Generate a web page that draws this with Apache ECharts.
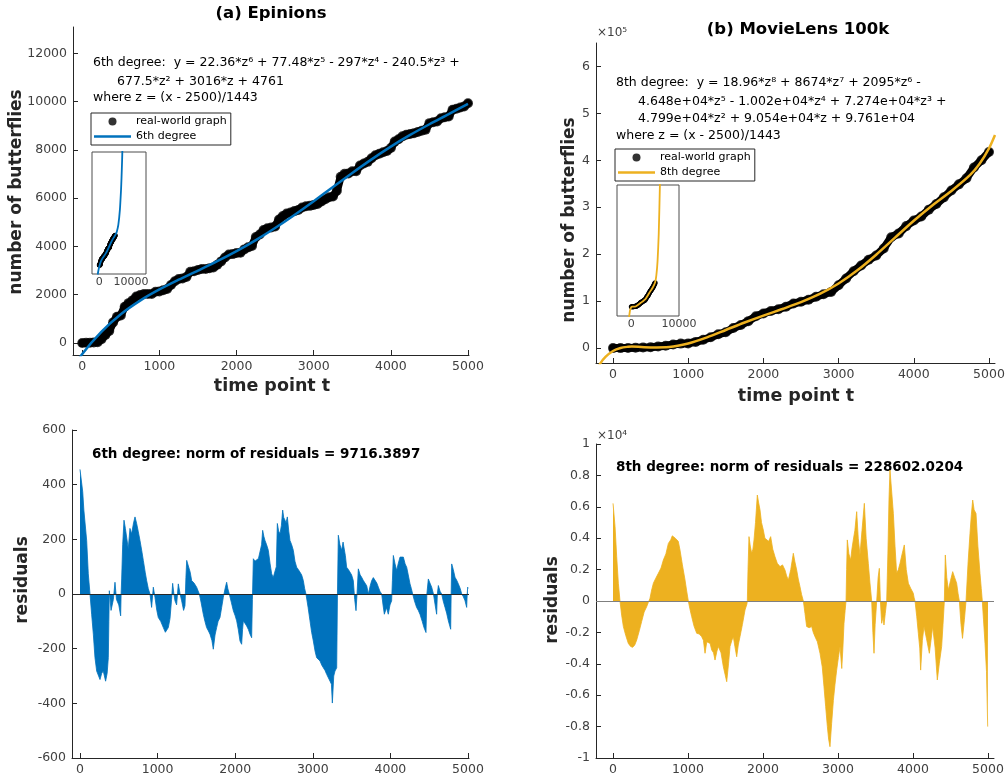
<!DOCTYPE html>
<html><head><meta charset="utf-8">
<script src="https://cdn.jsdelivr.net/npm/echarts@6/dist/echarts.min.js"></script>
<style>html,body{margin:0;padding:0;background:#fff}#c{width:1005px;height:781px}</style>
</head><body><div id="c"></div>
<script>
// ---------- tick labels ----------
const timeTicks = [0, 1000, 2000, 3000, 4000, 5000];
const butterflyTicksA = [0, 2000, 4000, 6000, 8000, 10000, 12000];
const butterflyTicksB = [0, 100000, 200000, 300000, 400000, 500000, 600000];
const residualTicksA = [-600, -400, -200, 0, 200, 400, 600];
const residualTicksB = [-10000, -8000, -6000, -4000, -2000, 0, 2000, 4000, 6000, 8000, 10000];
const insetTicks = [0, 10000];

// ---------- (a) Epinions : real-world graph ----------
const timeA = [0,50,100,150,200,250,300,350,400,450,500,550,600,650,700,750,800,850,900,950,
 1000,1050,1100,1150,1200,1250,1300,1350,1400,1450,1500,1550,1600,1650,1700,1750,1800,1850,1900,1950,
 2000,2050,2100,2150,2200,2250,2300,2350,2400,2450,2500,2550,2600,2650,2700,2750,2800,2850,2900,2950,
 3000,3050,3100,3150,3200,3250,3300,3350,3400,3450,3500,3550,3600,3650,3700,3750,3800,3850,3900,3950,
 4000,4050,4100,4150,4200,4250,4300,4350,4400,4450,4500,4550,4600,4650,4700,4750,4800,4850,4900,4950,5000];
const butterfliesA = [-4,10,12,23,33,159,331,497,851,1088,1139,1502,1648,1763,1921,1984,2026,2029,2031,2124,
 2136,2186,2237,2397,2558,2648,2674,2730,2946,2972,3023,3066,3068,3091,3128,3236,3379,3543,3666,3680,
 3723,3734,3876,3960,4019,4388,4490,4680,4751,4781,4826,5114,5257,5361,5404,5462,5511,5611,5660,5680,
 5714,5758,5858,5951,6038,6065,6302,6883,7005,7018,7113,7116,7348,7436,7503,7651,7777,7839,7903,7954,
 8074,8341,8438,8559,8626,8655,8692,8740,8794,8837,9106,9145,9178,9312,9350,9379,9665,9705,9751,9801,9932];

// (a) 6th degree fit
const fitTimeA = [-250,0,250,500,750,1000,1250,1500,1750,2000,2250,2500,2750,3000,3250,3500,3750,4000,4250,4500,4750,5000];
const fitA = [-1656,-460,469,1189,1754,2216,2618,2998,3386,3803,4260,4761,5302,5874,6460,7043,7606,8134,8618,9061,9479,9907];
// (a) inset: fit continued beyond the data
const insetFitTimeA = [-500,-250,0,500,1000,1500,2000,2500,3000,3500,4000,4500,5000,5250,5500,6000,6500,6850,7000,7200,7400];
const insetFitA = [-3172,-1656,-460,1189,2216,2998,3803,4761,5874,7043,8134,9061,9907,10406,11034,13408,18494,24964,28788,35136,43169];

// (a) residuals [t, value]
const residualsA = [[0,456],[35,374],[50,307],[86,196],[107,74],[129,0],[150,-74],[172,-147],[193,-233],[215,-282],[240,-300],[258,-313],[280,-290],[300,-282],[330,-319],[350,-290],[365,-233],[372,-100],[378,12],[400,-60],[430,-20],[451,43],[470,-20],[500,-40],[524,-80],[530,0],[537,55],[550,180],[567,270],[585,240],[601,233],[622,166],[644,240],[665,220],[690,260],[709,282],[730,258],[750,230],[773,196],[795,160],[816,123],[840,80],[859,49],[880,20],[902,0],[923,-49],[945,25],[966,-12],[990,-60],[1009,-86],[1040,-100],[1074,-123],[1100,-140],[1117,-147],[1138,-123],[1160,-90],[1180,-20],[1194,39],[1210,0],[1224,-25],[1245,-40],[1267,37],[1290,0],[1310,-25],[1335,-60],[1353,-43],[1365,60],[1375,123],[1395,117],[1420,80],[1439,49],[1470,40],[1503,25],[1538,0],[1560,-30],[1589,-74],[1610,-100],[1632,-123],[1655,-135],[1675,-147],[1700,-170],[1718,-202],[1740,-150],[1761,-123],[1780,-100],[1804,-86],[1825,-50],[1847,-12],[1870,20],[1890,43],[1905,20],[1924,0],[1950,-30],[1976,-61],[2000,-80],[2019,-98],[2040,-130],[2062,-172],[2083,-184],[2095,-130],[2105,-98],[2125,-100],[2148,-117],[2170,-130],[2191,-147],[2212,-160],[2222,-20],[2234,129],[2255,120],[2277,123],[2300,130],[2320,135],[2340,180],[2354,233],[2370,210],[2384,196],[2405,180],[2427,160],[2450,110],[2470,74],[2490,60],[2513,61],[2530,100],[2543,258],[2560,230],[2577,220],[2595,250],[2612,307],[2625,280],[2642,270],[2655,260],[2672,282],[2690,230],[2706,196],[2728,180],[2749,160],[2770,120],[2792,98],[2813,90],[2835,86],[2856,70],[2878,49],[2895,20],[2912,0],[2940,-50],[2964,-98],[2985,-140],[3007,-172],[3030,-210],[3050,-233],[3070,-240],[3093,-245],[3115,-260],[3136,-270],[3158,-280],[3179,-294],[3200,-300],[3222,-319],[3240,-330],[3252,-399],[3270,-300],[3286,-282],[3308,-270],[3318,0],[3329,215],[3350,180],[3372,160],[3390,190],[3402,196],[3420,140],[3436,98],[3458,90],[3479,86],[3500,70],[3522,49],[3540,-20],[3557,-61],[3570,0],[3587,92],[3610,70],[3630,61],[3650,50],[3673,49],[3695,30],[3716,0],[3740,30],[3759,49],[3780,60],[3802,67],[3825,40],[3845,25],[3865,10],[3888,0],[3905,-40],[3922,-74],[3950,-50],[3973,-74],[3995,-40],[4016,-25],[4026,50],[4038,141],[4060,110],[4081,86],[4100,110],[4124,135],[4145,130],[4167,135],[4190,110],[4210,98],[4230,70],[4253,37],[4270,20],[4287,0],[4310,-25],[4338,-49],[4360,-60],[4381,-74],[4410,-100],[4433,-123],[4459,-141],[4470,0],[4489,55],[4510,40],[4532,25],[4555,0],[4575,-37],[4596,-74],[4605,0],[4618,31],[4640,10],[4661,0],[4680,-25],[4704,-49],[4725,-70],[4747,-98],[4777,-129],[4783,0],[4790,110],[4810,90],[4833,61],[4855,50],[4876,37],[4900,20],[4919,0],[4940,-10],[4962,-25],[4983,-49],[4990,0],[4996,25],[5000,20]];

// ---------- (b) MovieLens 100k : real-world graph ----------
const timeB = [0,100,200,300,400,500,600,700,800,900,1000,1100,1200,1300,1400,1500,1600,1700,1800,1900,
 2000,2100,2200,2300,2400,2500,2600,2700,2800,2900,3000,3100,3200,3300,3400,3500,3600,3700,3800,3900,
 4000,4100,4200,4300,4400,4500,4600,4700,4800,4900,5000];
const butterfliesB = [-224,-232,-102,450,1200,1448,3050,4800,7400,9300,9653,12953,17454,23001,29096,33590,42449,49008,57242,67651,
 73660,78730,82699,87809,94760,98410,102975,109200,114559,119480,133802,148234,163666,175639,188054,197269,211896,235823,244213,259766,
 271718,280171,294824,306898,320992,335786,348744,361601,384638,400118,417594];

// (b) 8th degree fit
const fitTimeB = [-250,-170,-100,0,100,200,250,500,750,1000,1250,1500,1750,2000,2250,2500,2750,3000,3250,3500,3750,4000,4250,4500,4750,4875,5000,5080];
const fitB = [-56134,-33186,-19132,-6444,68,2598,2926,1278,2191,9653,22654,38390,54287,69060,82984,97610,115098,137402,165482,198769,235087,271218,304351,334586,368730,392499,425594,454070];
const insetFitTimeB = [-500,-250,0,250,500,1000,2000,3000,4000,4500,5000,5250,5500,5750,6000,6100];
const insetFitB = [-199124,-56134,-6444,2926,1278,9653,69060,137402,271218,334586,425594,542932,786374,1260454,2121904,2622621];

// (b) residuals [t, value]
const residualsB = [[0,6220],[27,4730],[49,2820],[71,1130],[93,0],[115,-900],[138,-1630],[170,-2200],[204,-2700],[235,-2900],[262,-2950],[290,-2800],[316,-2480],[350,-1900],[382,-1300],[415,-700],[449,-360],[470,-100],[493,170],[515,700],[538,1130],[570,1450],[604,1760],[640,2100],[671,2610],[705,3000],[738,3670],[770,3900],[790,4150],[804,4200],[830,4000],[849,4100],[870,3800],[893,3250],[925,2300],[960,1340],[980,700],[1004,0],[1025,-500],[1049,-1000],[1080,-1600],[1116,-2060],[1150,-2100],[1182,-2270],[1205,-2500],[1227,-3330],[1250,-2600],[1271,-2480],[1295,-2700],[1316,-3120],[1340,-3300],[1360,-3760],[1385,-3200],[1404,-2900],[1440,-3300],[1471,-4180],[1495,-4700],[1516,-5140],[1540,-4000],[1560,-2900],[1585,-2500],[1604,-2270],[1625,-2900],[1649,-3550],[1670,-2800],[1693,-2270],[1725,-1500],[1760,-570],[1785,-200],[1791,0],[1800,2000],[1813,4100],[1830,3500],[1849,3040],[1865,3300],[1880,3890],[1900,5000],[1924,6750],[1940,6300],[1960,5800],[1980,5000],[2004,4520],[2025,4000],[2049,3890],[2075,3800],[2102,4100],[2130,3300],[2160,2820],[2190,2400],[2227,2190],[2260,2300],[2293,1970],[2315,1600],[2338,1340],[2370,2000],[2404,3040],[2425,2500],[2449,1970],[2470,1400],[2493,910],[2515,400],[2538,0],[2560,-800],[2582,-1630],[2615,-1700],[2649,-1630],[2670,-2000],[2693,-2270],[2725,-2600],[2760,-3330],[2790,-4200],[2813,-5460],[2835,-6700],[2858,-8000],[2875,-8800],[2893,-9280],[2915,-7800],[2938,-6330],[2960,-5300],[2982,-4400],[3005,-3600],[3027,-2900],[3050,-4300],[3065,-3000],[3080,-1420],[3095,-600],[3107,0],[3115,2000],[3124,3890],[3145,3000],[3169,2610],[3185,3300],[3204,3890],[3225,4500],[3249,5690],[3270,4000],[3293,2930],[3320,4500],[3351,6220],[3375,4000],[3404,2400],[3425,1200],[3449,0],[3465,-2000],[3480,-3330],[3495,-1500],[3516,0],[3535,1500],[3551,2080],[3565,0],[3582,-1420],[3600,-1000],[3613,-1530],[3630,-800],[3649,0],[3665,3000],[3680,6500],[3693,8340],[3715,7000],[3738,5580],[3760,3500],[3782,1760],[3805,2000],[3827,2400],[3855,3000],[3884,3570],[3910,2000],[3938,1130],[3970,800],[4004,490],[4015,200],[4027,0],[4050,-1000],[4071,-2060],[4090,-3000],[4102,-4400],[4125,-2500],[4147,-1630],[4180,-2400],[4218,-3330],[4240,-2500],[4262,-1630],[4295,-3000],[4324,-5030],[4350,-4000],[4382,-2900],[4400,-1500],[4418,0],[4431,2930],[4450,1500],[4471,700],[4500,1300],[4529,1870],[4555,1500],[4582,1130],[4600,500],[4618,0],[4640,-1500],[4660,-2380],[4685,-1200],[4707,0],[4735,2500],[4760,4310],[4778,5500],[4796,6430],[4815,5800],[4840,5580],[4865,3500],[4893,1760],[4910,800],[4924,0],[4940,-1200],[4960,-2700],[4980,-4500],[4996,-8000],[5000,-8000]];

// ---------- texts ----------
const titleA = '(a) Epinions';
const titleB = '(b) MovieLens 100k';
const eqA = ['6th degree:  y = 22.36*z\u2076 + 77.48*z\u2075 - 297*z\u2074 - 240.5*z\u00b3 +', '677.5*z\u00b2 + 3016*z + 4761', 'where z = (x - 2500)/1443'];
const eqB = ['8th degree:  y = 18.96*z\u2078 + 8674*z\u2077 + 2095*z\u2076 -', '4.648e+04*z\u2075 - 1.002e+04*z\u2074 + 7.274e+04*z\u00b3 +', '4.799e+04*z\u00b2 + 9.054e+04*z + 9.761e+04', 'where z = (x - 2500)/1443'];
const normA = '6th degree: norm of residuals = 9716.3897';
const normB = '8th degree: norm of residuals = 228602.0204';

// ---------- build ----------
const zip = (xs, ys) => xs.map((x, i) => [x, ys[i]]);
const FONT = 'DejaVu Sans';
const AX = '#262626';
const LBL = '#404040';
const BLUE = '#0072BD';
const GOLD = '#EDB120';
const plain = v => String(v);

function mainX(grid, min, max) {
  return {
    type: 'value', gridIndex: grid, min: min, max: max,
    axisLine: { show: true, onZero: false, lineStyle: { color: AX, width: 1 } },
    axisTick: { show: true, inside: true, length: 5, customValues: timeTicks, lineStyle: { color: AX } },
    axisLabel: { show: true, customValues: timeTicks, margin: 5, color: LBL, fontFamily: FONT, fontSize: 12.5, formatter: plain },
    splitLine: { show: false }
  };
}
function mainY(grid, min, max, ticks, fmt) {
  return {
    type: 'value', gridIndex: grid, min: min, max: max,
    axisLine: { show: true, onZero: false, lineStyle: { color: AX, width: 1 } },
    axisTick: { show: true, inside: true, length: 5, customValues: ticks, lineStyle: { color: AX } },
    axisLabel: { show: true, customValues: ticks, margin: 6, color: LBL, fontFamily: FONT, fontSize: 12.5, formatter: fmt },
    splitLine: { show: false }
  };
}
function insetX(grid, min, max) {
  return {
    type: 'value', gridIndex: grid, min: min, max: max,
    axisLine: { show: false },
    axisTick: { show: false },
    axisLabel: { show: true, customValues: insetTicks, margin: 3, color: LBL, fontFamily: FONT, fontSize: 11, formatter: plain },
    splitLine: { show: false }
  };
}
function insetY(grid, min, max) {
  return {
    type: 'value', gridIndex: grid, min: min, max: max,
    axisLine: { show: false }, axisTick: { show: false }, axisLabel: { show: false }, splitLine: { show: false }
  };
}

const dataA = zip(timeA, butterfliesA);
const dataB = zip(timeB, butterfliesB);
const lineIcon = 'path://M0,0H37V2.5H0Z';

function legendAt(left, top, fitName) {
  return {
    data: [{ name: 'real-world graph', icon: 'circle' }, { name: fitName, icon: lineIcon }],
    left: left, top: top, orient: 'vertical',
    itemWidth: 37, itemHeight: 8, itemGap: 4, selectedMode: false, padding: [3, 4, 3, 3],
    borderColor: AX, borderWidth: 1, borderRadius: 0, backgroundColor: '#fff',
    textStyle: { fontFamily: FONT, fontSize: 11, color: '#000' }
  };
}

const option = {
  animation: false,
  backgroundColor: '#fff',
  textStyle: { fontFamily: FONT },
  grid: [
    { left: 73, top: 27, width: 396, height: 328, outerBoundsMode: 'none' },
    { left: 596, top: 43, width: 399, height: 320, outerBoundsMode: 'none' },
    { left: 72, top: 430, width: 397, height: 328, outerBoundsMode: 'none' },
    { left: 596, top: 444, width: 398, height: 314, outerBoundsMode: 'none' },
    { left: 92, top: 152, width: 54, height: 122, show: true, borderColor: '#4d4d4d', borderWidth: 1, backgroundColor: '#fff', outerBoundsMode: 'none' },
    { left: 617, top: 185, width: 62, height: 131, show: true, borderColor: '#4d4d4d', borderWidth: 1, backgroundColor: '#fff', outerBoundsMode: 'none' }
  ],
  xAxis: [
    mainX(0, -120, 5013),
    mainX(1, -226, 5080),
    mainX(2, -103, 5013),
    mainX(3, -227, 5080),
    insetX(4, -2300, 14730),
    insetX(5, -3000, 10000)
  ],
  yAxis: [
    mainY(0, -500, 13090, butterflyTicksA, plain),
    mainY(1, -32000, 650000, butterflyTicksB, v => String(Math.round(v / 1e5))),
    mainY(2, -600, 600, residualTicksA, plain),
    mainY(3, -10000, 10000, residualTicksB, v => String(Math.round(v / 1e3) / 10)),
    insetY(4, -3000, 37700),
    insetY(5, -160000, 2110000)
  ],
  legend: [ legendAt(91, 113, '6th degree'), legendAt(615, 149, '8th degree') ],
  series: [
    // (a) main
    { name: 'bandA', type: 'line', xAxisIndex: 0, yAxisIndex: 0, data: dataA, symbol: 'none', silent: true,
      lineStyle: { color: '#000', width: 8, cap: 'round', join: 'round' }, z: 2 },
    { name: 'real-world graph', type: 'scatter', xAxisIndex: 0, yAxisIndex: 0, data: dataA, symbolSize: 10,
      itemStyle: { color: '#000' }, z: 3 },
    { name: '6th degree', type: 'line', xAxisIndex: 0, yAxisIndex: 0, data: zip(fitTimeA, fitA), symbol: 'none', smooth: 0.3,
      lineStyle: { color: BLUE, width: 2.5 }, itemStyle: { color: BLUE }, z: 4 },
    // (b) main
    { name: 'bandB', type: 'line', xAxisIndex: 1, yAxisIndex: 1, data: dataB, symbol: 'none', silent: true,
      lineStyle: { color: '#000', width: 8, cap: 'round', join: 'round' }, z: 2 },
    { name: 'real-world graph', type: 'scatter', xAxisIndex: 1, yAxisIndex: 1, data: dataB, symbolSize: 10,
      itemStyle: { color: '#000' }, z: 3 },
    { name: '8th degree', type: 'line', xAxisIndex: 1, yAxisIndex: 1, data: zip(fitTimeB, fitB), symbol: 'none', smooth: 0.3,
      lineStyle: { color: GOLD, width: 2.5 }, itemStyle: { color: GOLD }, z: 4 },
    // insets
    { name: 'insetBandA', type: 'line', xAxisIndex: 4, yAxisIndex: 4, data: dataA, symbol: 'circle', symbolSize: 5, silent: true,
      itemStyle: { color: '#000' }, lineStyle: { color: '#000', width: 5 }, z: 5 },
    { name: 'insetFitA', type: 'line', xAxisIndex: 4, yAxisIndex: 4, data: zip(insetFitTimeA, insetFitA), symbol: 'none', smooth: 0.2, silent: true,
      lineStyle: { color: BLUE, width: 1.8 }, z: 6 },
    { name: 'insetBandB', type: 'line', xAxisIndex: 5, yAxisIndex: 5, data: dataB, symbol: 'circle', symbolSize: 5, silent: true,
      itemStyle: { color: '#000' }, lineStyle: { color: '#000', width: 5 }, z: 5 },
    { name: 'insetFitB', type: 'line', xAxisIndex: 5, yAxisIndex: 5, data: zip(insetFitTimeB, insetFitB), symbol: 'none', smooth: 0.2, silent: true,
      lineStyle: { color: GOLD, width: 1.8 }, z: 6 },
    // residuals
    { name: 'residualsA', type: 'line', xAxisIndex: 2, yAxisIndex: 2, data: residualsA, symbol: 'none', silent: true,
      lineStyle: { color: BLUE, width: 0.8 }, areaStyle: { color: BLUE, opacity: 1, origin: 0 }, z: 2,
      markLine: { silent: true, symbol: 'none', label: { show: false }, lineStyle: { color: AX, width: 1, type: 'solid' }, data: [{ yAxis: 0 }] } },
    { name: 'residualsB', type: 'line', xAxisIndex: 3, yAxisIndex: 3, data: residualsB, symbol: 'none', silent: true,
      lineStyle: { color: GOLD, width: 0.8 }, areaStyle: { color: GOLD, opacity: 1, origin: 0 }, z: 2,
      markLine: { silent: true, symbol: 'none', label: { show: false }, lineStyle: { color: '#7f7f7f', width: 1, type: 'solid' }, data: [{ yAxis: 0 }] } }
  ],
  graphic: [
    { type: 'text', x: 271, y: 14, style: { text: titleA, font: 'bold 16.5px "DejaVu Sans"', fill: '#000', textAlign: 'center', textVerticalAlign: 'middle' } },
    { type: 'text', x: 798, y: 30, style: { text: titleB, font: 'bold 16.5px "DejaVu Sans"', fill: '#000', textAlign: 'center', textVerticalAlign: 'middle' } },
    { type: 'text', x: 93, y: 63, style: { text: eqA[0], font: '12.5px "DejaVu Sans"', fill: '#000', textVerticalAlign: 'middle' } },
    { type: 'text', x: 117, y: 82, style: { text: eqA[1], font: '12.5px "DejaVu Sans"', fill: '#000', textVerticalAlign: 'middle' } },
    { type: 'text', x: 93, y: 98, style: { text: eqA[2], font: '12.5px "DejaVu Sans"', fill: '#000', textVerticalAlign: 'middle' } },
    { type: 'text', x: 616, y: 83, style: { text: eqB[0], font: '12.5px "DejaVu Sans"', fill: '#000', textVerticalAlign: 'middle' } },
    { type: 'text', x: 638, y: 102, style: { text: eqB[1], font: '12.5px "DejaVu Sans"', fill: '#000', textVerticalAlign: 'middle' } },
    { type: 'text', x: 638, y: 119, style: { text: eqB[2], font: '12.5px "DejaVu Sans"', fill: '#000', textVerticalAlign: 'middle' } },
    { type: 'text', x: 616, y: 136, style: { text: eqB[3], font: '12.5px "DejaVu Sans"', fill: '#000', textVerticalAlign: 'middle' } },
    { type: 'text', x: 597, y: 33, style: { text: '\u00d710\u2075', font: '12px "DejaVu Sans"', fill: LBL, textVerticalAlign: 'middle' } },
    { type: 'text', x: 597, y: 436, style: { text: '\u00d710\u2074', font: '12px "DejaVu Sans"', fill: LBL, textVerticalAlign: 'middle' } },
    { type: 'text', x: 92, y: 454, style: { text: normA, font: 'bold 13.5px "DejaVu Sans"', fill: '#000', textVerticalAlign: 'middle' } },
    { type: 'text', x: 616, y: 467, style: { text: normB, font: 'bold 13.5px "DejaVu Sans"', fill: '#000', textVerticalAlign: 'middle' } },
    { type: 'text', x: 272, y: 386, style: { text: 'time point t', font: 'bold 17.5px "DejaVu Sans"', fill: '#262626', textAlign: 'center', textVerticalAlign: 'middle' } },
    { type: 'text', x: 796, y: 396, style: { text: 'time point t', font: 'bold 17.5px "DejaVu Sans"', fill: '#262626', textAlign: 'center', textVerticalAlign: 'middle' } },
    { type: 'text', x: 17, y: 192, rotation: Math.PI / 2, style: { text: 'number of butterflies', font: 'bold 17px "DejaVu Sans"', fill: '#262626', textAlign: 'center', textVerticalAlign: 'middle' } },
    { type: 'text', x: 570, y: 220, rotation: Math.PI / 2, style: { text: 'number of butterflies', font: 'bold 17px "DejaVu Sans"', fill: '#262626', textAlign: 'center', textVerticalAlign: 'middle' } },
    { type: 'text', x: 23, y: 580, rotation: Math.PI / 2, style: { text: 'residuals', font: 'bold 17px "DejaVu Sans"', fill: '#262626', textAlign: 'center', textVerticalAlign: 'middle' } },
    { type: 'text', x: 553, y: 600, rotation: Math.PI / 2, style: { text: 'residuals', font: 'bold 17px "DejaVu Sans"', fill: '#262626', textAlign: 'center', textVerticalAlign: 'middle' } }
  ]
};

const chart = echarts.init(document.getElementById('c'), null, { renderer: 'canvas', width: 1005, height: 781 });
chart.setOption(option);
</script>
</body></html>
